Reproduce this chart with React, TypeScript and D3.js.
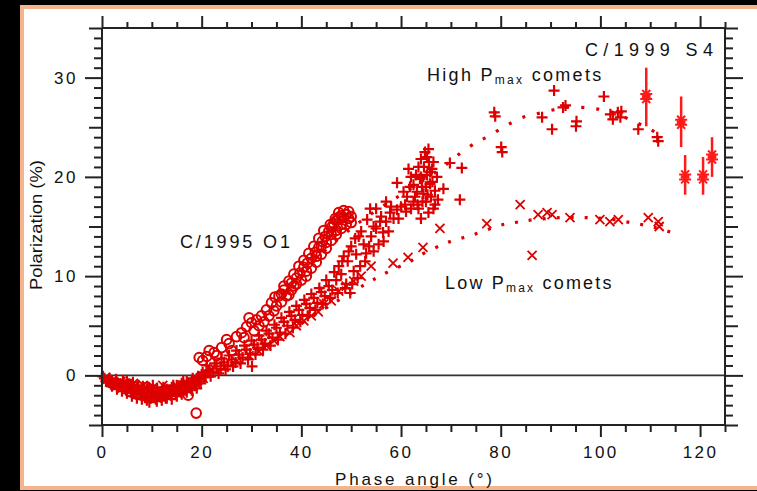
import React, { useEffect, useRef } from 'react';
import * as d3 from 'd3';

const W = 757;
const H = 491;

const xDomain: [number, number] = [0, 125];
const yDomain: [number, number] = [-5, 35];
const xMajorTicks = [0, 20, 40, 60, 80, 100, 120];
const yMajorTicks = [0, 10, 20, 30];

// "+" markers : high Pmax comets and general comets
const plusPoints: [number, number][] = [
  [0.5, -0.3], [1.2, -0.5], [2, -0.6], [2.5, -0.9], [3, -0.7], [3.5, -1.1], [4, -0.9], [4.5, -1.2],
  [5, -0.6], [5.5, -1.3], [6, -1.0], [6.5, -1.5], [7, -1.2], [7.5, -1.6], [8, -1.3], [8.5, -1.8],
  [9, -1.4], [9.5, -2.7], [10, -1.6], [10.5, -2.0], [11, -1.3], [11.5, -1.9], [12, -1.6], [12.5, -2.1],
  [13, -1.4], [13.5, -1.8], [14, -1.2], [14.5, -1.6], [15, -1.0], [15.5, -1.4], [16, -0.8], [16.5, -1.2],
  [17, -0.6], [17.5, -1.0], [18, -0.5], [18.5, -0.8], [19, -0.3], [19.5, -0.6], [20, 0.1], [20.5, -0.2], [21, 0.4],
  [0.2, -0.1], [0.8, -0.6], [1.5, -0.3], [1.8, -0.9], [2.8, -0.4], [3.2, -1.2], [4.2, -0.5], [4.8, -1.5],
  [5.3, -0.9], [5.8, -1.7], [6.2, -0.7], [6.8, -1.9], [7.3, -1.0], [7.8, -2.0], [8.2, -1.1], [8.8, -2.2],
  [9.3, -1.2], [9.8, -2.3], [10.2, -1.0], [10.8, -2.4], [11.2, -1.7], [11.8, -2.2], [12.3, -1.2], [12.8, -2.3],
  [13.2, -1.6], [13.8, -2.0], [14.3, -1.0], [14.8, -1.9], [15.2, -1.3], [15.8, -1.7], [16.3, -0.6], [16.8, -1.5],
  [17.2, -0.8], [17.8, -1.3], [18.2, -0.3], [18.8, -1.0], [19.3, -0.1], [19.8, -0.8], [20.2, 0.3], [20.8, 0.0],
  [2, -1.1], [3, -1.4], [4, -1.6], [5, -1.8], [6, -2.1], [7, -2.3], [8, -2.4], [9, -2.5], [10, -2.2],
  [11, -2.6], [12, -2.5], [13, -2.3], [14, -2.4], [15, -2.1], [16, -1.9], [17, -1.7], [18, -1.5], [19, -1.3],
  [21.5, 0.5], [22.3, 0.3], [23, 0.9], [23.8, 0.6], [24.5, 1.3], [25.2, 1.0], [26, 1.6], [26.8, 1.3],
  [27.5, 2.1], [28.2, 1.8], [29, 2.6], [29.7, 2.2], [30.1, 0.9], [30.5, 3.1], [31.2, 2.8], [32, 3.6],
  [32.7, 3.2], [33.5, 4.2], [34.2, 3.8], [35, 4.8], [35.7, 4.3], [36.5, 5.4], [37.2, 5.0], [38, 6.0],
  [38.7, 5.6], [39.5, 6.6], [40.2, 6.1], [41, 7.2], [41.7, 6.8], [42.5, 7.8], [43.2, 7.3], [44, 8.4],
  [44.7, 8.0], [45.5, 9.0], [46.2, 8.6], [47, 9.6], [47.5, 11.0], [48, 10.2], [48.5, 12.0], [49, 9.2],
  [49.3, 11.5], [49.8, 8.3], [50, 13.0], [50.5, 10.5], [51, 12.2], [51.5, 14.0], [51.8, 11.0], [52.5, 13.2],
  [21, 1.0], [21.8, -0.1], [22.6, 1.2], [23.4, 0.2], [24, 1.7], [24.8, 0.6], [25.5, 2.0], [26.3, 0.9],
  [27, 2.5], [27.8, 1.2], [28.6, 3.0], [29.3, 1.6], [30, 3.5], [30.8, 2.1], [31.5, 4.0], [32.3, 2.6],
  [33, 4.5], [33.8, 3.0], [34.6, 5.1], [35.3, 3.6], [36, 5.8], [36.8, 4.2], [37.6, 6.4], [38.3, 4.8],
  [39, 7.0], [39.8, 5.4], [40.6, 7.6], [41.3, 6.0], [42, 8.2], [42.8, 6.6], [43.6, 8.8], [44.3, 7.2],
  [45, 9.6], [45.8, 7.8], [46.6, 10.4], [47.3, 8.3], [48.2, 11.5], [48.8, 8.8], [49.5, 12.5], [50.2, 9.2],
  [50.8, 13.8], [51.3, 9.8], [52, 14.5], [52.8, 11.5], [53.6, 13.0], [54.5, 15.0], [55.5, 13.2], [56, 16.0],
  [57.5, 14.5], [58, 17.0], [59.5, 15.8], [60.5, 18.5], [61, 16.5], [62, 20.0], [62.8, 18.0], [63.5, 21.0],
  [64.2, 19.0], [64.8, 22.5], [65.3, 18.2], [65.6, 21.5], [66.2, 20.8], [66.5, 16.8], [64, 15.8], [65, 17.5],
  [53, 12.3], [54.5, 12.5], [55.8, 15.5], [56.5, 13.5], [57, 17.5], [55, 16.8], [53.8, 16.8],
  [62.5, 19.2], [63, 20.2], [63.8, 19.8], [64.5, 18.3], [65.2, 20.2], [65.8, 19.3], [66.5, 21.5], [64, 21.8],
  [65.5, 22.8], [63.3, 17.2], [66.8, 18.6], [62, 16.8], [60.8, 17.2], [61.5, 20.8],
  [53.2, 15.7], [54, 14.0], [55, 14.8], [56.4, 14.4], [57, 15.5], [57.8, 16.4], [58.5, 15.8], [59.2, 16.7],
  [59.2, 19.4], [60, 17.0], [61.2, 18.0], [61.8, 19.0], [62.5, 17.5], [63.2, 18.5], [63.5, 16.8], [64, 20.0],
  [64.3, 17.5], [64.6, 21.0], [65, 19.0], [65.2, 22.0], [65.5, 16.4], [65.8, 20.5], [66, 18.0], [66.3, 19.5],
  [66.8, 17.2], [67.4, 17.7], [67.2, 20.0], [69.8, 21.4], [72.2, 20.9], [71.8, 17.7], [68.5, 18.8],
  [78.7, 26.5], [78.9, 26.1], [80.1, 23.0], [80.3, 22.5], [88.3, 26.0], [90.3, 24.8], [90.7, 28.7],
  [92.5, 27.0], [93, 27.2], [95.1, 25.1], [95.2, 25.6], [100.7, 28.1], [102, 26.3], [102.5, 25.8],
  [103.5, 26.5], [104, 26.0], [104.2, 26.6], [107.6, 24.8], [111.4, 24.0], [111.6, 23.6],
];

// "x" markers : low Pmax comets
const crossPoints: [number, number][] = [
  [1, -0.4], [2.2, -0.8], [3.8, -0.6], [5.2, -1.2], [6.3, -0.8], [7.2, -1.4], [8.3, -1.0], [9.2, -1.9],
  [10.3, -1.2], [11.4, -1.6], [12.2, -1.0], [13.3, -1.3], [14.2, -1.9], [15.3, -1.2], [16.2, -1.5],
  [17.3, -0.9], [18.3, -1.1], [19.2, -0.5], [20.3, -0.3],
  [0.7, -0.2], [1.6, -0.7], [3, -1.0], [4.5, -0.8], [5.8, -1.4], [7, -1.8], [8, -1.6], [9.5, -1.6],
  [11, -2.1], [12, -1.9], [13, -1.8], [14, -1.5], [15, -1.6], [16, -1.3], [17, -1.1], [18, -0.8],
  [19, -0.9], [20, -0.2],
  [22, 0.6], [24.5, 0.8], [27, 1.4], [29.5, 2.0], [31.5, 2.4], [33, 3.0], [34.5, 3.5], [35.7, 3.9],
  [37.7, 4.3], [39, 5.0], [40.5, 5.5], [42, 6.0], [43.4, 6.4], [44.5, 7.2], [46, 7.5], [47.5, 8.5],
  [49, 9.0], [50.5, 9.5], [52, 10.0], [54, 11.0], [58.4, 11.3], [61.4, 11.9], [64.4, 12.9], [67.8, 14.8],
  [77.2, 15.3], [83.9, 17.2], [86.3, 12.1], [87.5, 16.2], [89.3, 16.4], [90.3, 16.2], [93.9, 15.9],
  [99.9, 15.7], [101.9, 15.5], [103.6, 15.7], [109.6, 15.9], [111.6, 15.5], [111.8, 15.0],
];

// "o" markers : C/1995 O1
const circlePoints: [number, number][] = [
  [5.5, -0.9], [9, -1.2], [12.5, -1.5], [16, -1.1], [17.3, -2.0], [18.9, -3.8],
  [19.5, 1.8], [20.2, 1.5], [21, 1.9], [22.5, 2.3], [24, 2.8], [25.5, 3.2], [27, 3.9], [28, 4.3],
  [29, 4.9], [30, 5.3], [31, 5.6], [32, 6.0], [33, 6.6], [34, 7.3], [34.7, 7.9], [35.5, 8.0],
  [36, 8.2], [36.5, 8.6], [37.5, 8.1], [38, 9.3], [38.5, 9.0], [39, 9.8], [39.7, 10.3], [40.5, 10.9],
  [41, 10.5], [41.2, 11.3], [42, 11.8], [42.8, 12.4], [43, 12.0], [43.5, 12.9], [44, 13.0], [44.2, 13.5],
  [44.8, 14.0], [45, 13.4], [45.5, 14.5], [46, 14.9], [46, 14.2], [46.5, 15.3], [47, 15.6], [47, 14.6],
  [47.5, 15.9], [48, 16.1], [48, 15.2], [48.5, 15.9], [49, 16.2], [49.5, 15.8], [50, 16.0],
  [30.5, 4.5], [31.5, 5.0], [32.5, 5.4], [33.5, 6.0], [34.5, 6.5], [35, 7.0], [36, 7.4], [37, 8.0],
  [38, 8.6], [39, 9.2], [40, 9.6], [41, 10.0], [42, 10.8], [43, 11.4], [44, 12.2], [45, 12.8],
  [46, 13.6], [47, 14.2], [48, 14.8], [49, 15.2], [50, 15.4], [49.5, 16.5], [48.5, 16.6], [47.5, 16.4],
  [46.8, 15.8], [45.8, 15.2], [44.5, 14.6], [43.5, 13.8], [42.5, 13.0], [41.5, 12.3], [40.5, 11.6],
  [39.5, 11.0], [38.5, 10.2], [37.5, 9.5], [36.5, 9.0],
  [21.5, 2.5], [23, 2.0], [25, 3.6], [26, 2.5], [28.5, 3.8], [29.5, 5.8],
];

// C/1999 S4 : x, value, upper, lower
const s4Points: [number, number, number, number][] = [
  [109.2, 28.1, 31.0, 25.1],
  [116.2, 25.5, 28.1, 23.0],
  [117.0, 20.0, 22.2, 18.2],
  [120.6, 20.0, 22.0, 18.2],
  [122.4, 22.0, 24.0, 20.0],
];

const highCurve: [number, number][] = [
  [40, 10.5], [50, 14.8], [55, 16.6], [60, 18.2], [65, 19.8], [68.2, 20.9], [71.4, 22.2], [75.2, 23.5],
  [77.2, 24.0], [80.9, 25.1], [84.5, 26.0], [88.5, 26.5], [93.3, 27.0], [98.5, 26.9], [102.5, 26.5],
  [106.6, 25.6], [110, 24.8], [112.4, 24.0],
];

const lowCurve: [number, number][] = [
  [40, 5.2], [46.2, 7.2], [50, 8.3], [53.2, 9.3], [55.4, 9.9], [58, 10.6], [61.2, 11.3], [63.8, 12.1],
  [68.4, 13.2], [71.2, 13.7], [73.4, 14.0], [75.8, 14.4], [80.5, 15.2], [82.9, 15.4], [85.2, 15.6],
  [91.9, 15.9], [96.5, 15.9], [101, 15.8], [106, 15.4], [111, 14.9], [116, 14.1],
];

const RED = '#dc0000';
const BRIGHT = '#ff1a1a';
const INK = '#222';
const FONT = '"Liberation Sans", Arial, sans-serif';

export default function App() {
  const axRef = useRef<SVGGElement>(null);

  const x = d3.scaleLinear().domain(xDomain).range([102, 725]);
  const y = d3.scaleLinear().domain(yDomain).range([425, 28]);

  useEffect(() => {
    const g = d3.select(axRef.current);
    g.selectAll('*').remove();
    const blank = () => '';
    const add = (axis: any, tx: number, ty: number) => {
      const a = g.append('g').attr('transform', `translate(${tx},${ty})`).call(axis);
      a.select('.domain').remove();
      a.selectAll('line').attr('stroke', INK).attr('stroke-width', 2);
      a.selectAll('text')
        .attr('fill', '#111')
        .style('font-family', FONT)
        .style('font-size', '17px')
        .style('letter-spacing', '2.5px');
      return a;
    };
    const fives = d3.range(0, 126, 5);
    const ones = d3.range(-5, 36, 1);
    const yFives = d3.range(-5, 36, 5).filter((v) => v % 10 !== 0);
    // bottom
    add(d3.axisBottom(x).tickValues(fives.filter((v) => v % 20 !== 0)).tickSize(7).tickSizeOuter(0).tickFormat(blank), 0, 425);
    add(d3.axisBottom(x).tickValues(xMajorTicks).tickSize(12).tickSizeOuter(0).tickPadding(9).tickFormat(d3.format('d')), 0, 425);
    // top
    add(d3.axisTop(x).tickValues(fives.filter((v) => v % 20 !== 0)).tickSize(6).tickSizeOuter(0).tickFormat(blank), 0, 28);
    add(d3.axisTop(x).tickValues(xMajorTicks).tickSize(12).tickSizeOuter(0).tickFormat(blank), 0, 28);
    // left
    add(d3.axisLeft(y).tickValues(ones.filter((v) => v % 5 !== 0)).tickSize(8).tickSizeOuter(0).tickFormat(blank), 102, 0);
    add(d3.axisLeft(y).tickValues(yFives).tickSize(13).tickSizeOuter(0).tickFormat(blank), 102, 0);
    add(d3.axisLeft(y).tickValues(yMajorTicks).tickSize(17).tickSizeOuter(0).tickPadding(7).tickFormat(d3.format('d')), 102, 0);
    // right
    add(d3.axisRight(y).tickValues(ones.filter((v) => v % 5 !== 0)).tickSize(8).tickSizeOuter(0).tickFormat(blank), 725, 0);
    add(d3.axisRight(y).tickValues(yFives).tickSize(13).tickSizeOuter(0).tickFormat(blank), 725, 0);
    add(d3.axisRight(y).tickValues(yMajorTicks).tickSize(18).tickSizeOuter(0).tickFormat(blank), 725, 0);
  }, []);

  const curve = d3
    .line<[number, number]>()
    .x((d) => x(d[0]))
    .y((d) => y(d[1]))
    .curve(d3.curveCatmullRom.alpha(0.5));

  const plusPath = 'M-5.5,0H5.5M0,-5.5V5.5';
  const crossPath = 'M-4.5,-4.5L4.5,4.5M-4.5,4.5L4.5,-4.5';
  const starPath = 'M-6,0H6M-4,-4L4,4M-4,4L4,-4';

  return (
    <div style={{ position: 'fixed', left: 0, top: 0, width: W, height: H, background: '#000' }}>
      <svg width={W} height={H} style={{ display: 'block' }}>
        <rect x={0} y={0} width={W} height={H} fill="#000" />
        <rect x={22} y={7} width={W + 20} height={481} fill="#fff" stroke="#f6b48c" strokeWidth={4} />

        {/* zero line */}
        <line x1={x(0)} x2={x(125)} y1={y(0)} y2={y(0)} stroke="#333" strokeWidth={1.6} />

        {/* dotted fits */}
        <path d={curve(highCurve) || ''} fill="none" stroke={RED} strokeWidth={3.2} strokeDasharray="3 12" />
        <path d={curve(lowCurve) || ''} fill="none" stroke={RED} strokeWidth={3.2} strokeDasharray="3 11" />

        {/* data */}
        <g stroke={RED} fill="none">
          {circlePoints.map((d, i) => (
            <circle key={'c' + i} cx={x(d[0])} cy={y(d[1])} r={4.8} strokeWidth={2} />
          ))}
          {plusPoints.map((d, i) => (
            <path key={'p' + i} d={plusPath} transform={`translate(${x(d[0])},${y(d[1])})`} strokeWidth={2.2} />
          ))}
          {crossPoints.map((d, i) => (
            <path key={'x' + i} d={crossPath} transform={`translate(${x(d[0])},${y(d[1])})`} strokeWidth={1.8} />
          ))}
        </g>
        <g stroke={BRIGHT} fill="none">
          {s4Points.map((d, i) => (
            <g key={'s' + i}>
              <line x1={x(d[0])} x2={x(d[0])} y1={y(d[2])} y2={y(d[3])} strokeWidth={2.5} />
              <path d={starPath} transform={`translate(${x(d[0])},${y(d[1]) - 2.5})`} strokeWidth={2} />
              <path d={starPath} transform={`translate(${x(d[0])},${y(d[1]) + 2.5})`} strokeWidth={2} />
            </g>
          ))}
        </g>

        {/* frame */}
        <g stroke={INK} strokeWidth={2}>
          <line x1={102} x2={102} y1={28} y2={425} />
          <line x1={725} x2={725} y1={28} y2={425} />
          <line x1={102} x2={725} y1={28} y2={28} />
          <line x1={102} x2={725} y1={425} y2={425} />
        </g>
        <g ref={axRef} />

        {/* texts */}
        <g fill="#111" style={{ fontFamily: FONT }} fontSize={18}>
          <text x={585} y={56} textLength={128} lengthAdjust="spacing">C/1999 S4</text>
          <text x={427} y={81} style={{ letterSpacing: '2.3px' }}>
            High P<tspan fontSize={12} dy={3}>max</tspan><tspan dy={-3}> comets</tspan>
          </text>
          <text x={445} y={289} style={{ letterSpacing: '2.2px' }}>
            Low P<tspan fontSize={12} dy={3}>max</tspan><tspan dy={-3}> comets</tspan>
          </text>
          <text x={180} y={248} textLength={110} lengthAdjust="spacing">C/1995 O1</text>
          <text x={335} y={485} fontSize={17} textLength={157} lengthAdjust="spacing">Phase angle (°)</text>
          <text transform="translate(42,225) rotate(-90)" textAnchor="middle" fontSize={17} textLength={130} lengthAdjust="spacingAndGlyphs">
            Polarization (%)
          </text>
        </g>
      </svg>
    </div>
  );
}
